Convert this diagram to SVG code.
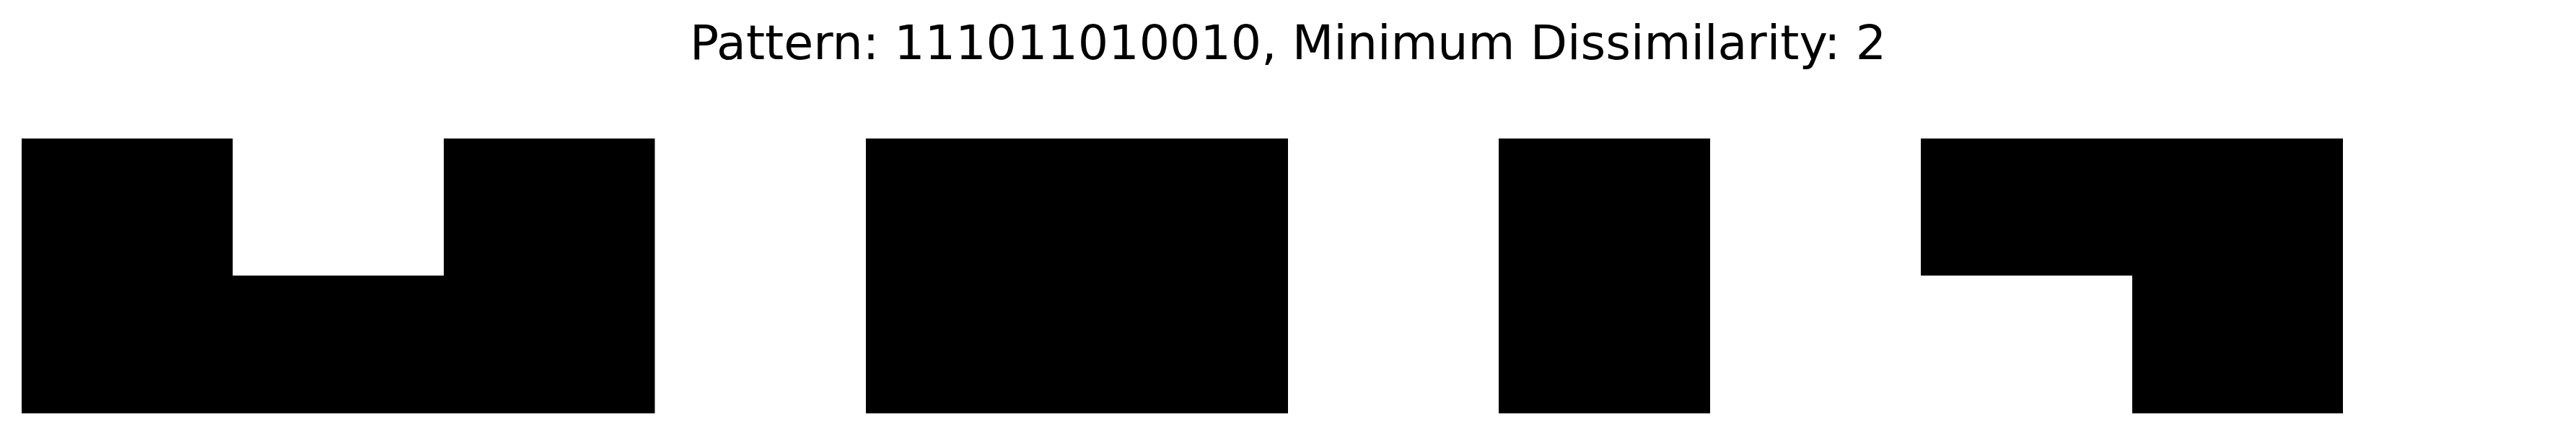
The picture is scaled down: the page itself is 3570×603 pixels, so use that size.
<svg xmlns="http://www.w3.org/2000/svg" width="3570" height="603" viewBox="0 0 3570 603">
<style>
.title{font-family:"DejaVu Sans","Liberation Sans",sans-serif;font-size:66.67px;fill:#000;text-anchor:middle}
.cell{fill:#000;stroke:none}
</style>
<rect x="0" y="0" width="3570" height="603" fill="#fff"/>
<text class="title" x="1785" y="82">Pattern: 111011010010, Minimum Dissimilarity: 2</text>
<g id="shape1"><path class="cell" d="M30 192 H322.5 V382 H615 V192 H907.5 V573 H30 Z"/></g>
<g id="shape2"><rect class="cell" x="1200" y="192" width="585" height="381"/></g>
<g id="shape3"><rect class="cell" x="2077" y="192" width="293" height="381"/></g>
<g id="shape4"><path class="cell" d="M2662 192 H3247 V573 H2955 V382 H2662 Z"/></g>
<g id="connectors"></g>
</svg>
